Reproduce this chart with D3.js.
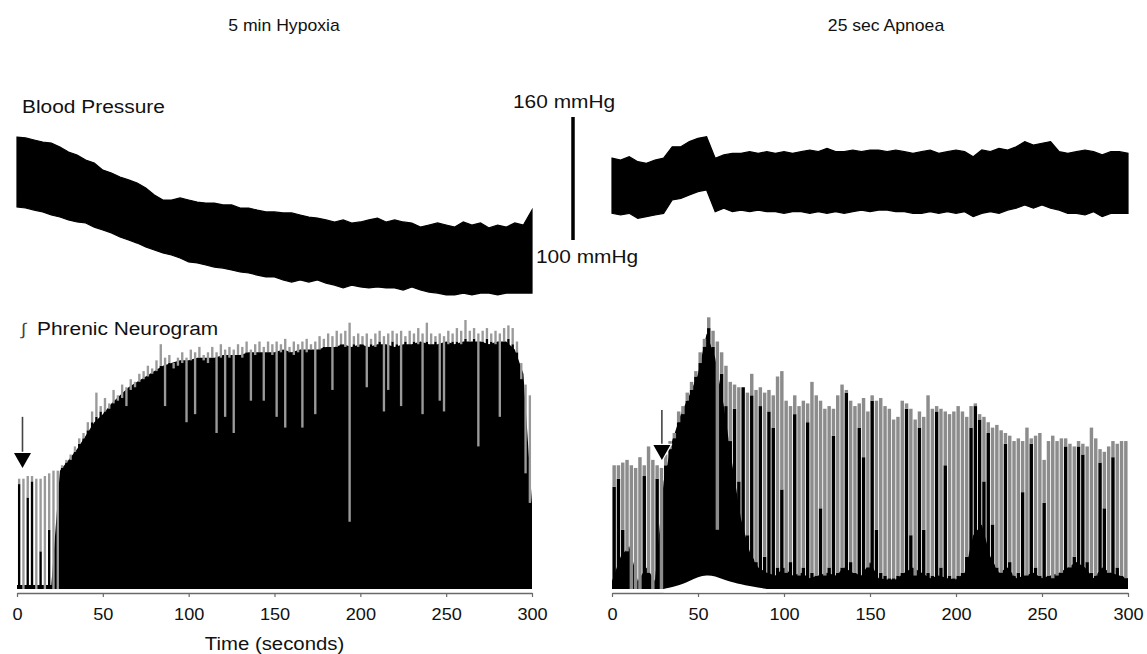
<!DOCTYPE html>
<html>
<head>
<meta charset="utf-8">
<script src="https://cdn.jsdelivr.net/npm/d3@7"></script>
<style>
  body { margin: 0; background: #fff; }
  svg text { font-family: Arial, "Liberation Sans", Helvetica, sans-serif; fill: #111; }
</style>
</head>
<body>
<div id="chart"></div>
<script>
// 5 min hypoxia (left) vs 25 sec apnoea (right)
// BP band + integrated phrenic bursts

// sample times for BP + black "mass" of the phrenic trace (s), every 5 s
var sampleT = d3.range(0, 301, 5)
var tickVals = [0, 50, 100, 150, 200, 250, 300]

// blood pressure envelope (mmHg)
var hypBpHi = [150.2, 149.8, 148.8, 147.8, 147.3, 145.4, 142.9, 141.5, 139.0, 137.6,
  134.1, 132.7, 130.7, 129.3, 127.8, 125.4, 122.0, 119.5, 119.5, 120.5,
  119.5, 118.5, 118.0, 118.0, 117.1, 117.1, 115.6, 115.6, 114.6, 113.7,
  113.7, 113.2, 113.2, 112.2, 111.2, 110.7, 109.8, 108.8, 109.8, 108.3,
  108.8, 109.8, 110.7, 108.8, 109.8, 108.8, 108.3, 106.3, 107.3, 108.3,
  107.3, 106.3, 108.8, 107.3, 108.3, 105.9, 107.3, 106.3, 108.3, 107.3, 114.6]
var hypBpLo = [116.1, 115.6, 114.6, 113.7, 112.2, 111.2, 109.8, 108.8, 108.3, 106.3,
  104.9, 103.4, 101.5, 100.0, 98.5, 96.6, 95.1, 93.7, 92.7, 91.2,
  89.3, 88.8, 87.8, 86.8, 86.3, 85.4, 84.4, 83.9, 82.9, 82.0,
  82.0, 80.5, 79.5, 80.5, 79.5, 80.5, 79.0, 78.0, 76.6, 78.0,
  77.1, 76.6, 77.1, 76.6, 76.6, 75.6, 77.1, 75.6, 74.6, 74.1,
  73.2, 73.2, 74.1, 73.2, 74.1, 74.1, 73.2, 74.1, 74.1, 74.1, 74.1]
var apBpHi = [139.9, 139.0, 140.6, 138.2, 137.4, 139.0, 139.9, 145.5, 145.5, 148.0,
  149.6, 150.4, 139.9, 141.5, 142.3, 142.3, 143.1, 142.3, 143.1, 142.3,
  143.1, 142.3, 143.1, 143.9, 143.1, 144.7, 143.1, 143.1, 143.9, 143.1,
  143.9, 143.9, 143.1, 143.9, 143.1, 142.3, 143.1, 143.9, 142.3, 143.1,
  143.9, 143.1, 140.6, 143.9, 143.1, 144.7, 143.9, 145.5, 148.0, 146.3,
  147.2, 148.0, 143.1, 142.3, 143.1, 143.9, 143.1, 141.5, 143.1, 143.1, 142.3]
var apBpLo = [113.0, 112.2, 113.0, 110.6, 111.4, 112.2, 113.0, 119.5, 120.3, 122.0,
  123.6, 124.4, 113.8, 115.5, 113.8, 114.6, 113.8, 114.6, 113.8, 113.8,
  113.0, 113.8, 113.8, 113.0, 113.8, 113.0, 113.8, 113.0, 113.8, 114.6,
  113.8, 114.6, 114.6, 113.8, 113.8, 113.0, 113.0, 113.8, 113.0, 113.8,
  113.0, 113.8, 111.4, 113.0, 113.8, 113.0, 114.6, 115.5, 117.1, 115.5,
  117.1, 115.5, 114.6, 113.0, 113.0, 112.2, 113.8, 111.4, 113.0, 113.0, 113.0]

// phrenic: solid black mass (a.u., 0 = baseline), every 5 s
var hypMass = [1.5, 1.5, 1.5, 1.5, 1.5, 44, 48, 52, 57, 62, 65, 69, 72, 75, 77,
  79, 81, 83, 84, 85, 85, 86, 86, 86, 87, 87, 87, 88, 88, 88, 88, 89, 88, 89, 89,
  89, 90, 90, 91, 90, 91, 90, 91, 91, 90, 91, 91, 92, 91, 91, 92, 91, 92, 92, 92,
  91, 92, 92, 89, 80, 32]
var apMass = [3, 12, 16, 3, 8, 3, 40, 55, 65, 72, 80, 95, 86, 68, 46, 26, 14,
  8, 6, 5, 8, 5, 6, 4, 5, 6, 5, 8, 6, 5, 10, 4, 3.5, 3.5, 6, 8, 6,
  4, 5, 4, 3.5, 6, 20, 24, 12, 6, 8, 4, 5, 6, 4, 5, 6, 8, 10, 8, 4, 8, 6, 5, 4]

// phrenic bursts, one every 2.5 s (120 per trace): peak (grey tip) and black part
var hypPeak = [41, 41, 42, 42, 41, 41, 42, 43, 44, 44,
  46, 48, 50, 53, 56, 58, 62, 66, 73, 68,
  71, 69, 74, 72, 76, 75, 78, 77, 80, 81,
  83, 82, 85, 91, 86, 87, 84, 86, 88, 86,
  89, 88, 90, 87, 88, 90, 88, 91, 89, 90,
  89, 91, 90, 92, 89, 91, 92, 90, 92, 91,
  92, 91, 93, 90, 92, 91, 92, 93, 91, 92,
  94, 93, 95, 94, 96, 95, 96, 99, 94, 95,
  94, 95, 93, 95, 96, 94, 95, 96, 95, 96,
  94, 96, 95, 97, 95, 99, 95, 94, 95, 94,
  96, 95, 97, 96, 100, 96, 97, 95, 96, 97,
  95, 96, 95, 97, 98, 97, 92, 84, 76, 72]
var hypBlk = [39, 0, 34, 40, 0, 14, 0, 22, 0, 0,
  45, 47, 48, 51, 54, 56, 59, 62, 64, 66,
  66, 67, 69, 70, 71, 68, 74, 75, 77, 78,
  79, 80, 81, 83, 68, 84, 82, 83, 84, 62,
  85, 65, 86, 85, 84, 86, 58, 86, 64, 86,
  58, 87, 86, 88, 70, 87, 88, 70, 88, 87,
  64, 88, 60, 88, 87, 88, 60, 88, 89, 65,
  89, 90, 90, 74, 90, 91, 90, 25, 91, 90,
  91, 75, 91, 90, 92, 66, 74, 92, 91, 68,
  92, 91, 92, 91, 65, 92, 91, 92, 70, 66,
  91, 92, 92, 91, 93, 92, 93, 53, 92, 93,
  92, 91, 64, 92, 93, 91, 88, 78, 43, 32]
var apPeak = [46, 46, 47, 48, 46, 45, 49, 46, 53, 48, 46, 45,
  50, 55, 58, 66, 68, 73, 77, 81, 88, 93, 101, 96, 92, 88, 83, 77, 76, 75,
  75, 73, 80, 74, 75, 73, 74, 72, 79, 81, 70, 68, 72, 68, 70, 69, 77, 72, 70, 67,
  68, 67, 72, 76, 74, 70, 68, 69, 71, 66,
  72, 70, 71, 68, 67, 63, 64, 70, 69, 67, 63, 66, 64, 72, 67, 68, 67, 66, 65, 66,
  68, 66, 64, 68, 69, 65, 64, 62, 60, 61,
  59, 58, 57, 55, 56, 55, 60, 56, 57, 58, 48, 55, 57, 55, 56, 56, 54, 53, 55, 54,
  53, 60, 56, 52, 51, 53, 55, 54, 55, 55]
var apBlk = [38, 41, 22, 14, 0, 0, 0, 42, 6, 0, 41, 0,
  46, 52, 56, 62, 65, 70, 74, 79, 84, 90, 97, 90, 22, 80, 68, 55, 67, 40,
  75, 20, 72, 10, 68, 12, 66, 60, 8, 37, 6, 10, 65, 5, 8, 62, 6, 5, 30, 5,
  8, 57, 6, 8, 73, 10, 6, 60, 49, 8,
  70, 22, 6, 5, 4, 4, 5, 6, 67, 20, 5, 60, 22, 6, 5, 66, 8, 46, 5, 4,
  5, 6, 12, 60, 68, 63, 40, 58, 24, 8,
  6, 54, 10, 5, 6, 36, 5, 54, 8, 5, 32, 5, 4, 5, 6, 53, 8, 12, 53, 50,
  10, 6, 5, 47, 30, 6, 49, 8, 5, 4]

// small lift of the apnoea baseline around the peak (white hump under trace)
var liftT = [30, 40, 45, 50, 55, 60, 65, 70, 80, 90]
var apLift = [0, 1.5, 3, 4.5, 5.2, 4.8, 3.5, 2.5, 1, 0]

// stimulus arrows: time (s), tip and tail height (a.u.)
var arrowT = [3.2, 29]
var arrowTip = [45, 48]
var arrowTop = [64, 66.5]

var scaleBar = [100, 160]   // mmHg

var width = 1147, height = 654
var svg = d3.select("#chart").append("svg")
  .attr("width", width)
  .attr("height", height)

var burstIdx = d3.range(hypPeak.length)
var hypX = d3.scaleLinear().domain([0, 300]).range([17, 532])
var apX = d3.scaleLinear().domain([0, 300]).range([612, 1128])
var bpY = d3.scaleLinear().domain([100, 160]).range([240, 117])
var phY = d3.scaleLinear().domain([0, 100]).range([589, 320])
var axisY = 593

// text in the figure is a bit stretched sideways
function label(x, y, str, size, anchor) {
  return svg.append("text")
    .attr("transform", "translate(" + x + "," + y + ") scale(1.1,1)")
    .attr("text-anchor", anchor || "start")
    .style("font-size", size + "px")
    .text(str)
}

function drawPanel(x, bpHi, bpLo, mass, peak, blk, barFrac, grey) {
  var g = svg.append("g")

  var bpArea = d3.area()
    .x(function(d, i) { return x(sampleT[i]) })
    .y0(function(d, i) { return bpY(bpLo[i]) })
    .y1(function(d) { return bpY(d) })
  g.append("path").datum(bpHi)
    .attr("d", bpArea)
    .attr("fill", "#000")
    .attr("stroke", "#000")
    .attr("stroke-width", 1.2)

  var massArea = d3.area()
    .x(function(d, i) { return x(sampleT[i]) })
    .y0(phY(0))
    .y1(function(d) { return phY(d) })
  g.append("path").datum(mass)
    .attr("d", massArea)
    .attr("fill", "#000")

  var band = d3.scaleBand().domain(burstIdx).range(x.range())
  var w = band.bandwidth() * barFrac
  var off = (band.bandwidth() - w) / 2

  var bursts = g.append("g").selectAll("g")
    .data(burstIdx)
    .enter().append("g")

  bursts.append("rect")
    .attr("x", function(i) { return band(i) + off })
    .attr("y", function(i) { return phY(blk[i]) })
    .attr("width", w)
    .attr("height", function(i) { return phY(0) - phY(blk[i]) })
    .attr("fill", "#000")

  bursts.append("rect")
    .attr("x", function(i) { return band(i) + off })
    .attr("y", function(i) { return phY(peak[i]) })
    .attr("width", w)
    .attr("height", function(i) { return Math.max(0, phY(blk[i]) - phY(peak[i])) })
    .attr("fill", grey)

  var ax = g.append("g")
    .attr("transform", "translate(0," + axisY + ")")
    .call(d3.axisBottom(x).tickValues(tickVals).tickSize(4).tickSizeOuter(0).tickPadding(11))
  ax.select(".domain").attr("stroke", "#6a6a6a").attr("stroke-width", 1.5)
  ax.selectAll(".tick line").attr("stroke", "#6a6a6a").attr("stroke-width", 1.2)
  ax.selectAll(".tick text")
    .attr("transform", "scale(1.1,1)")
    .style("font-size", "16.5px")
    .style("font-family", "Arial, 'Liberation Sans', sans-serif")
    .attr("fill", "#111")
  return g
}

drawPanel(hypX, hypBpHi, hypBpLo, hypMass, hypPeak, hypBlk, 0.55, "#9a9a9a")
drawPanel(apX, apBpHi, apBpLo, apMass, apPeak, apBlk, 0.8, "#8c8c8c")

// white hump where the apnoea baseline lifts
svg.append("path").datum(apLift)
  .attr("d", d3.area()
    .x(function(d, i) { return apX(liftT[i]) })
    .y0(phY(-1.3))
    .y1(function(d) { return phY(d) })
    .curve(d3.curveBasis))
  .attr("fill", "#fff")

// arrows
var xs = [hypX, apX]
arrowT.forEach(function(t, k) {
  var ax = xs[k](t)
  var tip = phY(arrowTip[k])
  svg.append("line")
    .attr("x1", ax).attr("x2", ax)
    .attr("y1", phY(arrowTop[k])).attr("y2", tip - 12)
    .attr("stroke", "#444")
    .attr("stroke-width", 1.6)
  svg.append("path")
    .attr("d", "M" + (ax - 8.5) + "," + (tip - 15) + "L" + (ax + 8.5) + "," + (tip - 15) + "L" + ax + "," + tip + "Z")
    .attr("fill", "#000")
    .attr("stroke", "#fff")
    .attr("stroke-width", 2.5)
    .attr("paint-order", "stroke")
})

// pressure scale bar
svg.append("line")
  .attr("x1", 573).attr("x2", 573)
  .attr("y1", bpY(scaleBar[1])).attr("y2", bpY(scaleBar[0]))
  .attr("stroke", "#000")
  .attr("stroke-width", 3.5)
label(513, 108, scaleBar[1] + " mmHg", 19)
label(536, 263, scaleBar[0] + " mmHg", 19)

// titles and labels
label(284, 31, "5 min Hypoxia", 16, "middle")
label(886, 31, "25 sec Apnoea", 16, "middle")
label(22, 113, "Blood Pressure", 19)
label(21, 335, "\u222B", 17).style("fill", "#444")
label(37, 335, "Phrenic Neurogram", 19)
label(hypX(150), 650, "Time (seconds)", 18.5, "middle")
</script>
</body>
</html>
